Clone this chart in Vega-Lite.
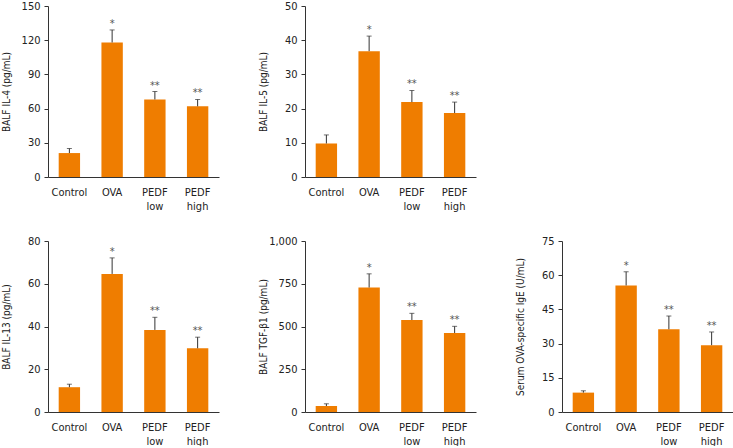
{
  "$schema": "https://vega.github.io/schema/vega-lite/v6.json",
  "padding": {"left": 1, "top": 0, "right": 0, "bottom": 0},
  "background": "white",
  "config": {
    "view": {"stroke": null},
    "font": "DejaVu Sans Condensed, sans-serif",
    "axis": {
      "labelFont": "DejaVu Sans Condensed, sans-serif",
      "titleFont": "DejaVu Sans Condensed, sans-serif",
      "labelFontSize": 11,
      "titleFontSize": 10,
      "titleFontWeight": "normal",
      "labelColor": "#222222",
      "titleColor": "#222222",
      "domainColor": "#333333",
      "tickColor": "#333333",
      "labelOverlap": false,
      "grid": false
    }
  },
  "datasets": {
    "d": [
      {"panel": "IL4", "group": "Control", "mean": 21, "err": 25, "star": ""},
      {"panel": "IL4", "group": "OVA", "mean": 118, "err": 129, "star": "*"},
      {"panel": "IL4", "group": "PEDF low", "mean": 68, "err": 75, "star": "**"},
      {"panel": "IL4", "group": "PEDF high", "mean": 62, "err": 68, "star": "**"},
      {"panel": "IL5", "group": "Control", "mean": 9.8, "err": 12.3, "star": ""},
      {"panel": "IL5", "group": "OVA", "mean": 36.8, "err": 41.2, "star": "*"},
      {"panel": "IL5", "group": "PEDF low", "mean": 21.9, "err": 25.3, "star": "**"},
      {"panel": "IL5", "group": "PEDF high", "mean": 18.7, "err": 21.9, "star": "**"},
      {"panel": "IL13", "group": "Control", "mean": 11.6, "err": 13.0, "star": ""},
      {"panel": "IL13", "group": "OVA", "mean": 64.6, "err": 72.1, "star": "*"},
      {"panel": "IL13", "group": "PEDF low", "mean": 38.4, "err": 44.3, "star": "**"},
      {"panel": "IL13", "group": "PEDF high", "mean": 29.8, "err": 35.0, "star": "**"},
      {"panel": "TGF", "group": "Control", "mean": 35, "err": 48, "star": ""},
      {"panel": "TGF", "group": "OVA", "mean": 728, "err": 808, "star": "*"},
      {"panel": "TGF", "group": "PEDF low", "mean": 538, "err": 577, "star": "**"},
      {"panel": "TGF", "group": "PEDF high", "mean": 462, "err": 501, "star": "**"},
      {"panel": "IgE", "group": "Control", "mean": 8.5, "err": 9.3, "star": ""},
      {"panel": "IgE", "group": "OVA", "mean": 55.5, "err": 61.5, "star": "*"},
      {"panel": "IgE", "group": "PEDF low", "mean": 36.3, "err": 42.1, "star": "**"},
      {"panel": "IgE", "group": "PEDF high", "mean": 29.3, "err": 35.1, "star": "**"}
    ]
  },
  "data": {"name": "d"},
  "spacing": 24,
  "vconcat": [
    {
      "spacing": 86,
      "bounds": "flush",
      "hconcat": [
        {
          "width": 171, "height": 171,
          "transform": [{"filter": "datum.panel === 'IL4'"}],
          "encoding": {
            "x": {"field": "group", "type": "nominal", "sort": ["Control", "OVA", "PEDF low", "PEDF high"], "scale": {"paddingInner": 0.5, "paddingOuter": 0.25}, "axis": {"title": null, "labelAngle": 0, "ticks": false, "labelExpr": "split(datum.label, ' ')", "labelPadding": 9, "labelLineHeight": 14}}
          },
          "layer": [
            {"mark": {"type": "bar", "color": "#EF7D00"}, "encoding": {"y": {"field": "mean", "type": "quantitative", "scale": {"domain": [0, 150], "nice": false}, "axis": {"values": [0, 30, 60, 90, 120, 150], "tickCount": 20, "title": "BALF IL-4 (pg/mL)", "titleX": -39, "titleBaseline": "alphabetic", "tickSize": 4, "labelPadding": 4}}}},
            {"mark": {"type": "rule", "color": "#333333", "strokeWidth": 1}, "encoding": {"y": {"field": "mean", "type": "quantitative"}, "y2": {"field": "err"}}},
            {"mark": {"type": "tick", "color": "#333333", "thickness": 1, "size": 5}, "encoding": {"y": {"field": "err", "type": "quantitative"}}},
            {"mark": {"type": "text", "color": "#555555", "fontSize": 11, "baseline": "alphabetic", "dy": -3}, "encoding": {"y": {"field": "err", "type": "quantitative"}, "text": {"field": "star"}}}
          ]
        },
        {
          "width": 171, "height": 171,
          "transform": [{"filter": "datum.panel === 'IL5'"}],
          "encoding": {
            "x": {"field": "group", "type": "nominal", "sort": ["Control", "OVA", "PEDF low", "PEDF high"], "scale": {"paddingInner": 0.5, "paddingOuter": 0.25}, "axis": {"title": null, "labelAngle": 0, "ticks": false, "labelExpr": "split(datum.label, ' ')", "labelPadding": 9, "labelLineHeight": 14}}
          },
          "layer": [
            {"mark": {"type": "bar", "color": "#EF7D00"}, "encoding": {"y": {"field": "mean", "type": "quantitative", "scale": {"domain": [0, 50], "nice": false}, "axis": {"values": [0, 10, 20, 30, 40, 50], "tickCount": 20, "title": "BALF IL-5 (pg/mL)", "titleX": -39, "titleBaseline": "alphabetic", "tickSize": 4, "labelPadding": 4}}}},
            {"mark": {"type": "rule", "color": "#333333", "strokeWidth": 1}, "encoding": {"y": {"field": "mean", "type": "quantitative"}, "y2": {"field": "err"}}},
            {"mark": {"type": "tick", "color": "#333333", "thickness": 1, "size": 5}, "encoding": {"y": {"field": "err", "type": "quantitative"}}},
            {"mark": {"type": "text", "color": "#555555", "fontSize": 11, "baseline": "alphabetic", "dy": -3}, "encoding": {"y": {"field": "err", "type": "quantitative"}, "text": {"field": "star"}}}
          ]
        }
      ]
    },
    {
      "spacing": 86,
      "bounds": "flush",
      "hconcat": [
        {
          "width": 171, "height": 171,
          "transform": [{"filter": "datum.panel === 'IL13'"}],
          "encoding": {
            "x": {"field": "group", "type": "nominal", "sort": ["Control", "OVA", "PEDF low", "PEDF high"], "scale": {"paddingInner": 0.5, "paddingOuter": 0.25}, "axis": {"title": null, "labelAngle": 0, "ticks": false, "labelExpr": "split(datum.label, ' ')", "labelPadding": 9, "labelLineHeight": 14}}
          },
          "layer": [
            {"mark": {"type": "bar", "color": "#EF7D00"}, "encoding": {"y": {"field": "mean", "type": "quantitative", "scale": {"domain": [0, 80], "nice": false}, "axis": {"values": [0, 20, 40, 60, 80], "tickCount": 20, "title": "BALF IL-13 (pg/mL)", "titleX": -39, "titleBaseline": "alphabetic", "tickSize": 4, "labelPadding": 4}}}},
            {"mark": {"type": "rule", "color": "#333333", "strokeWidth": 1}, "encoding": {"y": {"field": "mean", "type": "quantitative"}, "y2": {"field": "err"}}},
            {"mark": {"type": "tick", "color": "#333333", "thickness": 1, "size": 5}, "encoding": {"y": {"field": "err", "type": "quantitative"}}},
            {"mark": {"type": "text", "color": "#555555", "fontSize": 11, "baseline": "alphabetic", "dy": -3}, "encoding": {"y": {"field": "err", "type": "quantitative"}, "text": {"field": "star"}}}
          ]
        },
        {
          "width": 171, "height": 171,
          "transform": [{"filter": "datum.panel === 'TGF'"}],
          "encoding": {
            "x": {"field": "group", "type": "nominal", "sort": ["Control", "OVA", "PEDF low", "PEDF high"], "scale": {"paddingInner": 0.5, "paddingOuter": 0.25}, "axis": {"title": null, "labelAngle": 0, "ticks": false, "labelExpr": "split(datum.label, ' ')", "labelPadding": 9, "labelLineHeight": 14}}
          },
          "layer": [
            {"mark": {"type": "bar", "color": "#EF7D00"}, "encoding": {"y": {"field": "mean", "type": "quantitative", "scale": {"domain": [0, 1000], "nice": false}, "axis": {"values": [0, 250, 500, 750, 1000], "tickCount": 20, "format": ",.0f", "title": "BALF TGF-β1 (pg/mL)", "titleX": -39, "titleBaseline": "alphabetic", "tickSize": 4, "labelPadding": 4}}}},
            {"mark": {"type": "rule", "color": "#333333", "strokeWidth": 1}, "encoding": {"y": {"field": "mean", "type": "quantitative"}, "y2": {"field": "err"}}},
            {"mark": {"type": "tick", "color": "#333333", "thickness": 1, "size": 5}, "encoding": {"y": {"field": "err", "type": "quantitative"}}},
            {"mark": {"type": "text", "color": "#555555", "fontSize": 11, "baseline": "alphabetic", "dy": -3}, "encoding": {"y": {"field": "err", "type": "quantitative"}, "text": {"field": "star"}}}
          ]
        },
        {
          "width": 171, "height": 171,
          "transform": [{"filter": "datum.panel === 'IgE'"}],
          "encoding": {
            "x": {"field": "group", "type": "nominal", "sort": ["Control", "OVA", "PEDF low", "PEDF high"], "scale": {"paddingInner": 0.5, "paddingOuter": 0.25}, "axis": {"title": null, "labelAngle": 0, "ticks": false, "labelExpr": "split(datum.label, ' ')", "labelPadding": 9, "labelLineHeight": 14}}
          },
          "layer": [
            {"mark": {"type": "bar", "color": "#EF7D00"}, "encoding": {"y": {"field": "mean", "type": "quantitative", "scale": {"domain": [0, 75], "nice": false}, "axis": {"values": [0, 15, 30, 45, 60, 75], "tickCount": 20, "title": "Serum OVA-specific IgE (U/mL)", "titleX": -39, "titleBaseline": "alphabetic", "tickSize": 4, "labelPadding": 4}}}},
            {"mark": {"type": "rule", "color": "#333333", "strokeWidth": 1}, "encoding": {"y": {"field": "mean", "type": "quantitative"}, "y2": {"field": "err"}}},
            {"mark": {"type": "tick", "color": "#333333", "thickness": 1, "size": 5}, "encoding": {"y": {"field": "err", "type": "quantitative"}}},
            {"mark": {"type": "text", "color": "#555555", "fontSize": 11, "baseline": "alphabetic", "dy": -3}, "encoding": {"y": {"field": "err", "type": "quantitative"}, "text": {"field": "star"}}}
          ]
        }
      ]
    }
  ]
}
